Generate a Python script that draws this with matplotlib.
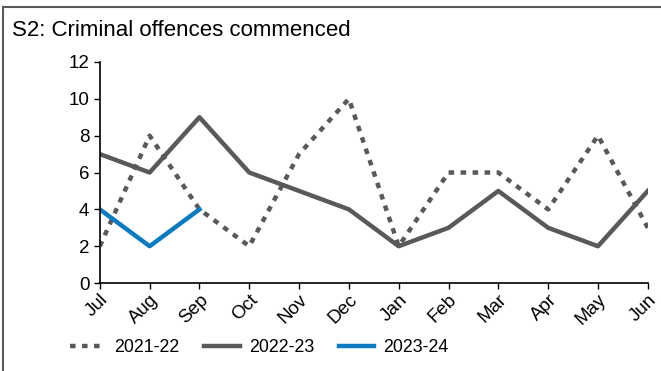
import numpy as np
import matplotlib.pyplot as plt
from matplotlib.patches import Rectangle

plt.rcParams['font.family'] = ['Liberation Sans', 'DejaVu Sans']

# data
months = ['Jul', 'Aug', 'Sep', 'Oct', 'Nov', 'Dec', 'Jan', 'Feb', 'Mar', 'Apr', 'May', 'Jun']
fy2122 = [2, 8, 4, 2, 7, 10, 2, 6, 6, 4, 8, 3]
fy2223 = [7, 6, 9, 6, 5, 4, 2, 3, 5, 3, 2, 5]
fy2324 = [4, 2, 4]

grey = '#58595b'
blue = '#0a7bc1'

fig = plt.figure(figsize=(6.61, 3.71), dpi=100)
ax = fig.add_axes([0.151, 0.237, 0.829, 0.596])

x = np.arange(len(months))
ax.plot(x, fy2122, color=grey, linewidth=3.2, linestyle=(0, (1.25, 1.45)), label='2021-22')
ax.plot(x, fy2223, color=grey, linewidth=3.2, label='2022-23')
ax.plot(x[:len(fy2324)], fy2324, color=blue, linewidth=3.2, label='2023-24')

ax.set_xlim(0, len(months) - 1)
ax.set_ylim(0, 12)
ax.set_yticks(range(0, 13, 2))
ax.set_xticks(x)
ax.set_xticklabels(months, rotation=45, ha='right', rotation_mode='anchor')
ax.tick_params(axis='both', labelsize=13.5, colors='black', length=4, width=1)
ax.tick_params(axis='x', pad=2)
for s in ['top', 'right']:
    ax.spines[s].set_visible(False)
for s in ['left', 'bottom']:
    ax.spines[s].set_linewidth(1.2)

fig.text(0.018, 0.917, 'S2: Criminal offences commenced', fontsize=16, ha='left', va='center')

fig.legend(loc='center', bbox_to_anchor=(0.392, 0.062), ncol=3, frameon=False,
           fontsize=12.8, handlelength=2.0, columnspacing=1.4, handletextpad=0.5)

# outer box
fig.patches.append(Rectangle((0.005, -0.05), 1.2, 0.03 + 1.0, transform=fig.transFigure,
                             fill=False, edgecolor='#595959', linewidth=1.5, clip_on=False))

fig.savefig('out.png', dpi=100)
